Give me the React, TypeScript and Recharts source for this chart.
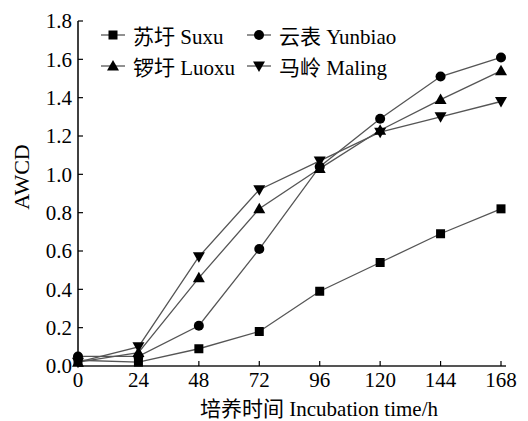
import { Line, LineChart, XAxis, YAxis } from 'recharts';

const HOURS = [0, 24, 48, 72, 96, 120, 144, 168];
const SUXU = [0.03, 0.02, 0.09, 0.18, 0.39, 0.54, 0.69, 0.82];
const YUNBIAO = [0.05, 0.05, 0.21, 0.61, 1.04, 1.29, 1.51, 1.61];
const LUOXU = [0.02, 0.07, 0.46, 0.82, 1.03, 1.23, 1.39, 1.54];
const MALING = [0.02, 0.1, 0.57, 0.92, 1.07, 1.22, 1.3, 1.38];
const Y_TICKS = [0, 0.2, 0.4, 0.6, 0.8, 1.0, 1.2, 1.4, 1.6, 1.8];

type MarkerKind = 'square' | 'circle' | 'up' | 'down';

const SERIES: { key: string; name: string; marker: MarkerKind }[] = [
  { key: 'suxu', name: '苏圩 Suxu', marker: 'square' },
  { key: 'yunbiao', name: '云表 Yunbiao', marker: 'circle' },
  { key: 'luoxu', name: '锣圩 Luoxu', marker: 'up' },
  { key: 'maling', name: '马岭 Maling', marker: 'down' },
];

const chartData = HOURS.map((h, i) => ({
  h,
  suxu: SUXU[i],
  yunbiao: YUNBIAO[i],
  luoxu: LUOXU[i],
  maling: MALING[i],
}));

const FONT = '"Liberation Serif", "Times New Roman", "Noto Sans CJK SC", serif';
const LINE_COLOR = '#555';
const TICK_STYLE = { fontSize: 21, fill: '#000', fontFamily: FONT, style: { fontFamily: FONT } };

function Marker({ cx, cy, kind }: { cx: number; cy: number; kind: MarkerKind }) {
  if (cx == null || cy == null) return null;
  switch (kind) {
    case 'square':
      return <rect x={cx - 4.5} y={cy - 4.5} width={9} height={9} fill="#000" />;
    case 'circle':
      return <circle cx={cx} cy={cy} r={5} fill="#000" />;
    case 'up':
      return (
        <polygon
          points={`${cx},${cy - 6} ${cx + 6},${cy + 4.5} ${cx - 6},${cy + 4.5}`}
          fill="#000"
        />
      );
    default:
      return (
        <polygon
          points={`${cx},${cy + 6} ${cx + 6},${cy - 4.5} ${cx - 6},${cy - 4.5}`}
          fill="#000"
        />
      );
  }
}

// two-column legend in the upper left of the plot
function LegendBox() {
  return (
    <div
      style={{
        position: 'absolute',
        left: 101,
        top: 22,
        width: 320,
        height: 64,
        fontFamily: FONT,
        fontSize: 21,
      }}
    >
      {SERIES.map((s, i) => {
        const col = i % 2;
        const row = Math.floor(i / 2);
        return (
          <div
            key={s.key}
            style={{
              position: 'absolute',
              left: col * 146,
              top: row * 31,
              display: 'flex',
              alignItems: 'center',
              height: 26,
              whiteSpace: 'nowrap',
              color: '#000',
            }}
          >
            <svg width={26} height={14} style={{ marginRight: 6 }}>
              <line x1={0} y1={7} x2={24} y2={7} stroke={LINE_COLOR} strokeWidth={1.3} />
              <Marker cx={12} cy={7} kind={s.marker} />
            </svg>
            <span>{s.name}</span>
          </div>
        );
      })}
    </div>
  );
}

export default function App() {
  return (
    <div style={{ position: 'absolute', left: 0, top: 0, width: 528, height: 421, background: '#fff' }}>
      <LineChart
        width={528}
        height={421}
        data={chartData}
        margin={{ top: 21, right: 22, left: 0, bottom: 25 }}
      >
        <XAxis
          dataKey="h"
          type="number"
          domain={[0, 168]}
          ticks={HOURS}
          padding={{ right: 5 }}
          height={30}
          tickSize={-5}
          tickMargin={11}
          tick={TICK_STYLE}
          axisLine={{ stroke: '#555', strokeWidth: 2 }}
          tickLine={{ stroke: '#000', strokeWidth: 1.2 }}
          label={() => (
            <text
              x={319}
              y={416}
              textAnchor="middle"
              fontSize={21}
              style={{ fontFamily: FONT }}
              fill="#000"
            >
              培养时间 Incubation time/h
            </text>
          )}
        />
        <YAxis
          type="number"
          domain={[0, 1.8]}
          ticks={Y_TICKS}
          width={78}
          tickSize={-5}
          tickMargin={11}
          tickFormatter={(v: number) => v.toFixed(1)}
          tick={TICK_STYLE}
          axisLine={{ stroke: '#000', strokeWidth: 1.5 }}
          tickLine={{ stroke: '#000', strokeWidth: 1.2 }}
          label={() => (
            <text
              x={29}
              y={177}
              transform="rotate(-90 29 177)"
              textAnchor="middle"
              fontSize={22}
              style={{ fontFamily: FONT }}
              fill="#000"
            >
              AWCD
            </text>
          )}
        />
        {SERIES.map((s) => (
          <Line
            key={s.key}
            dataKey={s.key}
            name={s.name}
            stroke={LINE_COLOR}
            strokeWidth={1.3}
            isAnimationActive={false}
            dot={(p: any) => (
              <Marker key={`${s.key}-${p.index}`} cx={p.cx} cy={p.cy} kind={s.marker} />
            )}
            activeDot={false}
          />
        ))}
      </LineChart>
      <LegendBox />
    </div>
  );
}
